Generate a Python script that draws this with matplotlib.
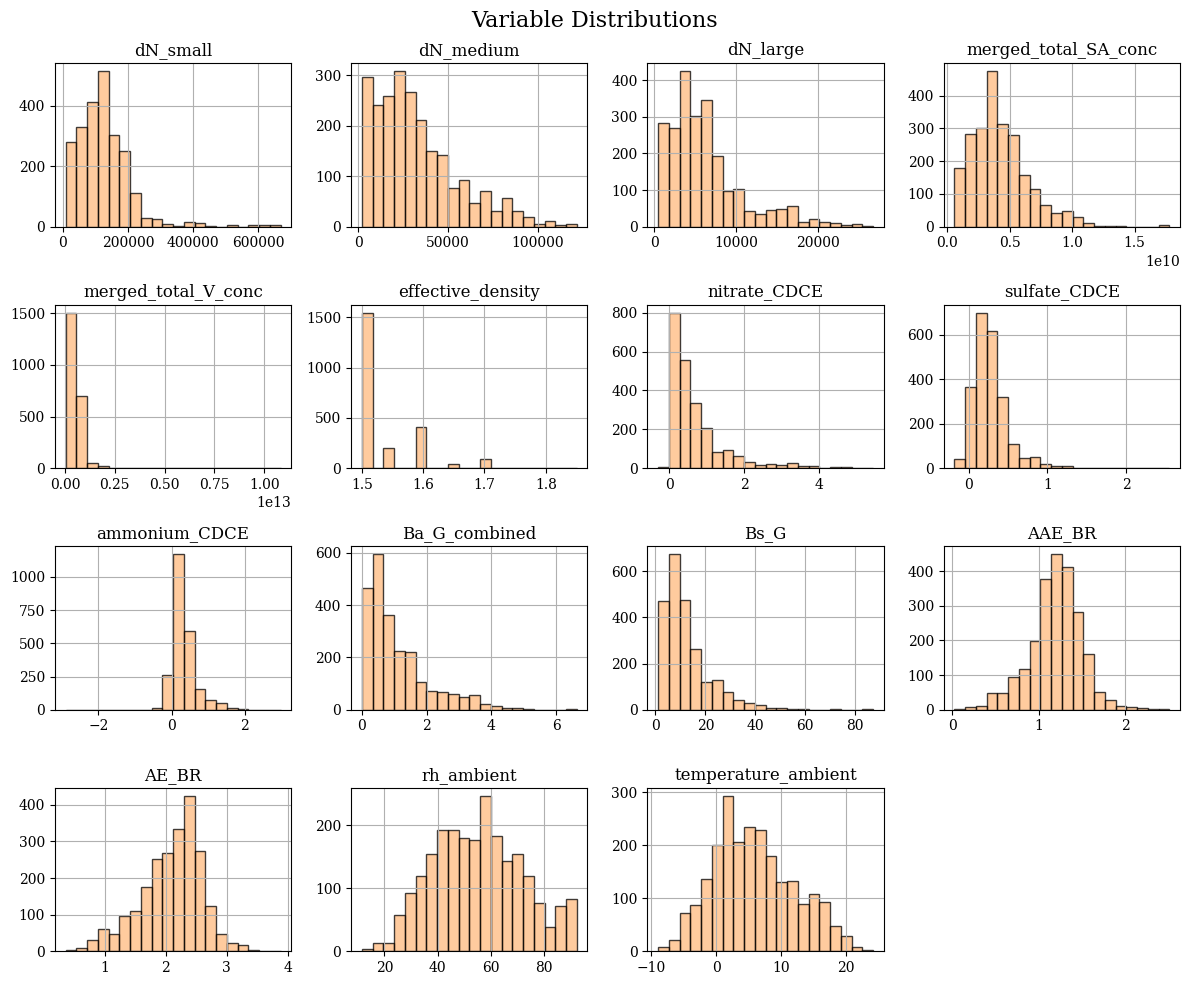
import numpy as np
import matplotlib
matplotlib.use("Agg")
import matplotlib.pyplot as plt

plt.rcParams['font.family'] = ['DejaVu Serif']

variables = ["dN_small", "dN_medium", "dN_large", "merged_total_SA_conc",
             "merged_total_V_conc", "effective_density", "nitrate_CDCE", "sulfate_CDCE",
             "ammonium_CDCE", "Ba_G_combined", "Bs_G", "AAE_BR",
             "AE_BR", "rh_ambient", "temperature_ambient"]

data_min = [9000, 2000, 490, 5.85e8,
            3e10, 1.50, -0.293, -0.182,
            -2.90, 0.0, 1.07, 0.027,
            0.36, 11.5, -8.9]
data_max = [668000, 121900, 26640, 1.777e10,
            1.082e13, 1.8505, 5.437, 2.55,
            2.98, 6.64, 87.07, 2.51,
            3.88, 92.2, 24.1]

counts_dN_small = [280, 330, 412, 515, 305, 252, 113, 28, 25, 8, 3, 15, 12, 3, 0, 5, 0, 5, 5, 5]
counts_dN_medium = [296, 240, 258, 308, 266, 211, 149, 141, 76, 92, 47, 70, 31, 57, 31, 19, 5, 11, 3, 5]
counts_dN_large = [283, 270, 425, 302, 347, 193, 97, 102, 42, 34, 45, 48, 56, 13, 20, 12, 10, 5, 7, 2]
counts_SA_conc = [178, 282, 300, 475, 313, 279, 157, 116, 65, 43, 47, 29, 11, 2, 2, 2, 0, 0, 0, 5]
counts_V_conc = [1505, 700, 55, 25, 2, 1, 0, 0, 0, 0, 0, 0, 0, 0, 0, 0, 0, 0, 0, 1]
counts_eff_density = [1545, 0, 198, 0, 0, 405, 0, 0, 45, 0, 0, 88, 0, 0, 0, 0, 0, 0, 0, 1]
counts_nitrate = [5, 800, 558, 337, 207, 83, 93, 62, 30, 15, 20, 15, 25, 10, 10, 2, 5, 5, 2, 2]
counts_sulfate = [40, 365, 700, 617, 320, 108, 45, 50, 18, 8, 8, 0, 0, 0, 0, 0, 0, 3, 3, 1]
counts_ammonium = [1, 1, 0, 0, 0, 0, 0, 1, 15, 258, 1170, 590, 155, 72, 50, 12, 5, 1, 1, 1]
counts_Ba_G = [464, 595, 362, 224, 219, 106, 71, 68, 60, 48, 56, 22, 14, 6, 6, 3, 0, 0, 0, 3]
counts_Bs_G = [470, 673, 475, 263, 121, 129, 78, 43, 27, 22, 9, 7, 4, 4, 0, 0, 3, 0, 0, 3]
counts_AAE_BR = [3, 8, 10, 49, 49, 95, 117, 199, 377, 449, 412, 282, 161, 51, 28, 11, 8, 5, 3, 3]
counts_AE_BR = [3, 8, 32, 62, 47, 97, 110, 175, 252, 268, 335, 425, 275, 125, 48, 22, 18, 3, 0, 1]
counts_rh = [3, 13, 13, 58, 93, 120, 155, 192, 192, 180, 177, 247, 183, 143, 155, 120, 77, 38, 72, 83]
counts_temp = [8, 22, 72, 88, 137, 200, 293, 205, 235, 228, 180, 130, 133, 90, 108, 93, 48, 28, 8, 3]

all_counts = [counts_dN_small, counts_dN_medium, counts_dN_large, counts_SA_conc,
              counts_V_conc, counts_eff_density, counts_nitrate, counts_sulfate,
              counts_ammonium, counts_Ba_G, counts_Bs_G, counts_AAE_BR,
              counts_AE_BR, counts_rh, counts_temp]

fig, axes = plt.subplots(4, 4, figsize=(12, 10), dpi=100)
axes = axes.ravel()

face = (1.0, 0.498, 0.055, 0.4)
edge = (0.0, 0.0, 0.0, 0.75)

for i, name in enumerate(variables):
    ax = axes[i]
    edges = np.linspace(data_min[i], data_max[i], len(all_counts[i]) + 1)
    centers = 0.5 * (edges[:-1] + edges[1:])
    ax.hist(centers, bins=edges, weights=all_counts[i], facecolor=face, edgecolor=edge, linewidth=1.0)
    ax.set_title(name, fontsize=12)
    ax.grid(True)
    ax.tick_params(labelsize=10)

for j in range(len(variables), len(axes)):
    axes[j].set_visible(False)

fig.suptitle("Variable Distributions", fontsize=16)
fig.tight_layout()
fig.savefig("out.png", dpi=100, bbox_inches="tight")
